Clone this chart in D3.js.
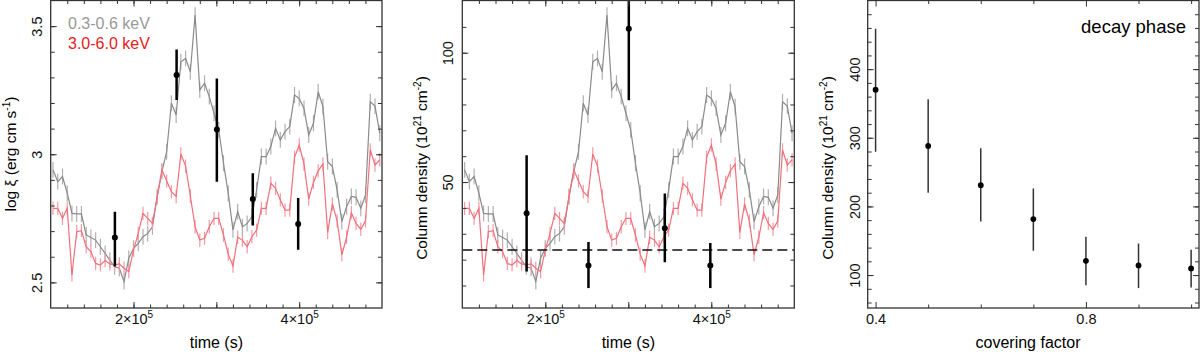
<!DOCTYPE html>
<html>
<head>
<meta charset="utf-8">
<script src="https://cdn.jsdelivr.net/npm/d3@7"></script>
<style>
  body { margin: 0; background: #fff; }
  svg { display: block; }
  text { font-family: "Liberation Sans", Arial, Helvetica, sans-serif; }
</style>
</head>
<body>
<svg width="1200" height="356"></svg>
<script>
// light curves (scaled onto the log xi axis), regular time bins
var lcStart = 102800, lcBin = 5717;
var softLC = [2.939, 2.893, 2.913, 2.848, 2.769, 2.767, 2.767, 2.685, 2.675, 2.665,
              2.639, 2.613, 2.587, 2.561, 2.555, 2.503, 2.594, 2.633, 2.652, 2.678,
              2.691, 2.717, 2.835, 2.932, 3.010, 3.199, 3.153, 3.361, 3.374, 3.322,
              3.543, 3.251, 3.277, 3.225, 3.160, 3.095, 2.965, 2.848, 2.705, 2.776,
              2.717, 2.730, 2.756, 2.861, 2.991, 2.991, 3.030, 3.101, 3.056, 3.088,
              3.108, 3.231, 3.218, 3.179, 3.075, 3.121, 3.244, 3.186, 2.971, 2.952,
              2.861, 2.737, 2.795, 2.835, 2.832, 2.789, 2.841, 3.205, 3.188, 3.082];
var hardLC = [2.789, 2.789, 2.750, 2.789, 2.529, 2.698, 2.702, 2.639, 2.620, 2.574,
              2.568, 2.585, 2.572, 2.568, 2.572, 2.555, 2.542, 2.626, 2.691, 2.769,
              2.750, 2.730, 2.835, 2.939, 2.896, 2.854, 2.835, 3.001, 2.954, 2.837,
              2.717, 2.665, 2.672, 2.717, 2.750, 2.750, 2.685, 2.610, 2.564, 2.676,
              2.665, 2.639, 2.678, 2.704, 2.789, 2.789, 2.887, 2.867, 2.822, 2.782,
              2.782, 2.988, 3.036, 2.962, 2.825, 2.890, 2.935, 2.962, 2.695, 2.806,
              2.740, 2.607, 2.676, 2.772, 2.730, 2.707, 2.740, 3.017, 2.958, 2.978];
var softErr = 0.031, hardErr = 0.026;

// time resolved fits
var fitTime = [177500, 252000, 300600, 344000, 398800];
var xiVal = [2.675, 3.309, 3.097, 2.825, 2.728];
var xiLo  = [2.562, 3.212, 2.893, 2.722, 2.627];
var xiHi  = [2.776, 3.409, 3.296, 2.926, 2.829];
var nhVal = [37.9, 17.7, 109.3, 32.1, 17.7];
var nhLo  = [15.4, 9.0, 81.6, 19.0, 9.0];
var nhHi  = [60.4, 26.8, 135, 45.6, 26.4];
var nhFloor = 23.7;

// decay phase
var coverFactor = [0.4, 0.5, 0.6, 0.7, 0.8, 0.9, 1.0];
var decayNH = [370, 288, 231, 181.5, 120.8, 114, 109.7];
var decayLo = [279.6, 219.8, 178, 135.4, 85, 81, 82];
var decayHi = [458.7, 356, 284.6, 226, 155.8, 146, 136.7];

var timeMinor = d3.range(12e4, 5e5, 2e4);
var timeMajor = [2e5, 3e5, 4e5];
var timeLabels = [2e5, 4e5];

var svg = d3.select("svg");
var plotTop = 0.5, plotBottom = 308;

function lcTime(i) { return lcStart + i * lcBin; }

// draw frame + inward ticks on all four sides
function frame(g, x, y, o) {
  var w = x.range()[1], h = plotBottom;
  function strip(sel) { sel.select(".domain").remove(); sel.selectAll("line").attr("stroke", "#333"); }

  g.append("g").attr("transform", "translate(0," + h + ")")
    .call(d3.axisBottom(x).tickValues(o.xMinor).tickSize(-3.5).tickFormat("")).call(strip);
  g.append("g").attr("transform", "translate(0," + plotTop + ")")
    .call(d3.axisTop(x).tickValues(o.xMinor).tickSize(-3.5).tickFormat("")).call(strip);
  g.append("g").attr("transform", "translate(0," + plotTop + ")")
    .call(d3.axisTop(x).tickValues(o.xMajor).tickSize(-6).tickFormat("")).call(strip);
  var xb = g.append("g").attr("transform", "translate(0," + h + ")")
    .call(d3.axisBottom(x).tickValues(o.xMajor).tickSize(-6)
      .tickFormat(function(d) { return o.xLabels.indexOf(d) >= 0 ? "lbl" : ""; }))
    .call(strip);
  xb.selectAll("text").attr("y", 16).attr("dy", 0).attr("font-size", "14.5px").attr("fill", "#111")
    .each(function(d) {
      var t = d3.select(this);
      if (t.text() === "") return;
      t.text(null);
      o.xFormat(t, d);
    });

  g.append("g").call(d3.axisLeft(y).tickValues(o.yMinor).tickSize(-4).tickFormat("")).call(strip);
  g.append("g").attr("transform", "translate(" + w + ",0)")
    .call(d3.axisRight(y).tickValues(o.yMinor).tickSize(-4).tickFormat("")).call(strip);
  g.append("g").attr("transform", "translate(" + w + ",0)")
    .call(d3.axisRight(y).tickValues(o.yMajor).tickSize(-6).tickFormat("")).call(strip);
  var yl = g.append("g").call(d3.axisLeft(y).tickValues(o.yMajor).tickSize(-6).tickFormat(o.yFormat)).call(strip);
  yl.selectAll("text")
    .attr("transform", "rotate(-90)")
    .attr("x", 0).attr("y", o.yLabelOff).attr("dy", 0)
    .attr("font-size", "14.5px").attr("fill", "#111")
    .style("text-anchor", "middle");

  g.append("rect").attr("x", 0).attr("y", plotTop).attr("width", w).attr("height", h - plotTop)
    .attr("fill", "none").attr("stroke", "#333").attr("stroke-width", 1.3);
}

function timeFormat(t, d) {
  t.append("tspan").text((d / 1e5) + "\u00d710");
  t.append("tspan").attr("dy", -6).attr("font-size", "10px").text("5");
}

function clip(id, w) {
  svg.append("clipPath").attr("id", id).append("rect")
    .attr("x", 0).attr("y", plotTop).attr("width", w).attr("height", plotBottom - plotTop);
}

// light curve overlay
function drawLC(g, x, lc, data, err, line, bar) {
  var path = d3.line().x(function(d, i) { return x(lcTime(i)); }).y(function(d) { return lc(d); });
  g.selectAll(null).data(data).enter().append("line")
    .attr("x1", function(d, i) { return x(lcTime(i)); })
    .attr("x2", function(d, i) { return x(lcTime(i)); })
    .attr("y1", function(d) { return lc(d - err); })
    .attr("y2", function(d) { return lc(d + err); })
    .attr("stroke", bar).attr("stroke-width", 1.2);
  g.append("path").datum(data).attr("d", path)
    .attr("fill", "none").attr("stroke", line).attr("stroke-width", 1.2);
}

function drawFits(g, x, y, val, lo, hi, col, bw, r) {
  g.selectAll(null).data(val).enter().append("line")
    .attr("x1", function(d, i) { return x(fitTime[i]); })
    .attr("x2", function(d, i) { return x(fitTime[i]); })
    .attr("y1", function(d, i) { return y(lo[i]); })
    .attr("y2", function(d, i) { return y(hi[i]); })
    .attr("stroke", col).attr("stroke-width", bw);
  g.selectAll(null).data(val).enter().append("circle")
    .attr("cx", function(d, i) { return x(fitTime[i]); })
    .attr("cy", function(d) { return y(d); })
    .attr("r", r).attr("fill", "#000");
}

// ---------- panel 1: log xi ----------
var p1 = svg.append("g").attr("transform", "translate(50.7,0)");
var w1 = 331.3;
var x1 = d3.scaleLinear().domain([1e5, 5e5]).range([0, w1]);
var y1 = d3.scaleLinear().domain([2.4, 3.6]).range([plotBottom, plotTop]);
var lcScale = y1.copy();
clip("c1", w1);
var d1 = p1.append("g").attr("clip-path", "url(#c1)");
drawLC(d1, x1, lcScale, softLC, softErr, "#8a8a8a", "#b0b0b0");
drawLC(d1, x1, lcScale, hardLC, hardErr, "#f0707c", "#f49aa2");
drawFits(d1, x1, y1, xiVal, xiLo, xiHi, "#000", 2.5, 3);
frame(p1, x1, y1, {
  xMinor: timeMinor, xMajor: timeMajor, xLabels: timeLabels, xFormat: timeFormat,
  yMinor: d3.range(25, 36).map(function(v) { return v / 10; }),
  yMajor: [2.5, 3, 3.5], yFormat: d3.format(""), yLabelOff: -9
});
p1.append("text").attr("x", 17.3).attr("y", 29).attr("font-family", "'Open Sans', sans-serif")
  .attr("font-size", "16px").attr("fill", "#999").text("0.3-0.6 keV");
p1.append("text").attr("x", 17.3).attr("y", 48.5).attr("font-family", "'Open Sans', sans-serif")
  .attr("font-size", "16px").attr("fill", "#e8201c").text("3.0-6.0 keV");
p1.append("text").attr("x", w1 / 2).attr("y", 348).attr("text-anchor", "middle")
  .attr("font-size", "16px").text("time (s)");
var yt1 = svg.append("text").attr("transform", "translate(16,154) rotate(-90)")
  .attr("text-anchor", "middle").attr("font-size", "15.5px");
yt1.append("tspan").text("log \u03be (erg cm s");
yt1.append("tspan").attr("dy", -6).attr("font-size", "10px").text("-1");
yt1.append("tspan").attr("dy", 6).text(")");

// ---------- panel 2: column density ----------
var p2 = svg.append("g").attr("transform", "translate(462.3,0)");
var w2 = 332;
var x2 = d3.scaleLinear().domain([1e5, 5e5]).range([0, w2]);
var y2 = d3.scaleLinear().domain([1.3, 120.2]).range([plotBottom, plotTop]);
clip("c2", w2);
var d2 = p2.append("g").attr("clip-path", "url(#c2)");
drawLC(d2, x2, lcScale, softLC, softErr, "#8a8a8a", "#b0b0b0");
drawLC(d2, x2, lcScale, hardLC, hardErr, "#f0707c", "#f49aa2");
d2.append("line").attr("x1", 0).attr("x2", w2)
  .attr("y1", y2(nhFloor)).attr("y2", y2(nhFloor))
  .attr("stroke", "#111").attr("stroke-width", 1.4).attr("stroke-dasharray", "10 5");
drawFits(d2, x2, y2, nhVal, nhLo, nhHi, "#000", 2.5, 3);
frame(p2, x2, y2, {
  xMinor: timeMinor, xMajor: timeMajor, xLabels: timeLabels, xFormat: timeFormat,
  yMinor: d3.range(10, 120, 10), yMajor: [50, 100], yFormat: d3.format(""), yLabelOff: -9.5
});
p2.append("text").attr("x", w2 / 2).attr("y", 348).attr("text-anchor", "middle")
  .attr("font-size", "16px").text("time (s)");

function nhLabel(x) {
  var t = svg.append("text").attr("transform", "translate(" + x + ",168) rotate(-90)")
    .attr("text-anchor", "middle").attr("font-size", "15.5px");
  t.append("tspan").text("Column density (10");
  t.append("tspan").attr("dy", -6).attr("font-size", "10px").text("21");
  t.append("tspan").attr("dy", 6).text(" cm");
  t.append("tspan").attr("dy", -6).attr("font-size", "10px").text("-2");
  t.append("tspan").attr("dy", 6).text(")");
}
nhLabel(427);

// ---------- panel 3: decay phase ----------
var p3 = svg.append("g").attr("transform", "translate(867.7,0)");
var w3 = 331.3;
var x3 = d3.scaleLinear().domain([0.385, 1.015]).range([0, w3]);
var y3 = d3.scaleLinear().domain([52, 500]).range([plotBottom, plotTop]);
clip("c3", w3);
var d3g = p3.append("g").attr("clip-path", "url(#c3)");
d3g.selectAll(null).data(decayNH).enter().append("line")
  .attr("x1", function(d, i) { return x3(coverFactor[i]); })
  .attr("x2", function(d, i) { return x3(coverFactor[i]); })
  .attr("y1", function(d, i) { return y3(decayLo[i]); })
  .attr("y2", function(d, i) { return y3(decayHi[i]); })
  .attr("stroke", "#333").attr("stroke-width", 1.5);
d3g.selectAll(null).data(decayNH).enter().append("circle")
  .attr("cx", function(d, i) { return x3(coverFactor[i]); })
  .attr("cy", function(d) { return y3(d); })
  .attr("r", 2.9).attr("fill", "#000");
frame(p3, x3, y3, {
  xMinor: [0.5, 0.6, 0.7, 0.9, 1.0], xMajor: [0.4, 0.8], xLabels: [0.4, 0.8],
  xFormat: function(t, d) { t.text(d3.format(".1f")(d)); },
  yMinor: d3.range(60, 500, 20), yMajor: [100, 200, 300, 400], yFormat: d3.format(""), yLabelOff: -8
});
p3.append("text").attr("x", w3 - 13).attr("y", 33).attr("text-anchor", "end")
  .attr("font-size", "18.5px").text("decay phase");
p3.append("text").attr("x", 1028 - 867.7).attr("y", 348).attr("text-anchor", "middle")
  .attr("font-size", "16px").text("covering factor");
nhLabel(833);
</script>
</body>
</html>
